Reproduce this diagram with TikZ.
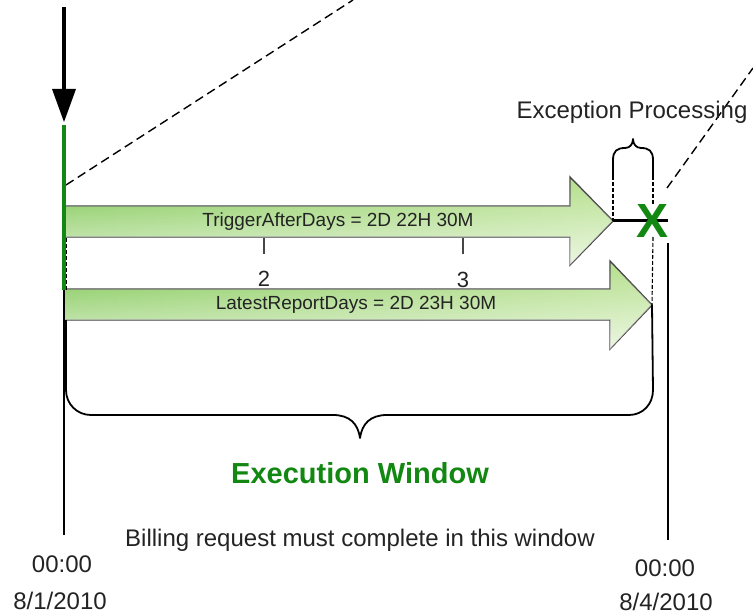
\documentclass[tikz,border=0pt]{standalone}
\usepackage{fontspec}
\setmainfont{Liberation Sans}
\usetikzlibrary{fadings}
\definecolor{okgreen}{RGB}{18,136,18}
\definecolor{arrowdark}{RGB}{124,198,78}
\definecolor{arrowlight}{RGB}{184,225,144}
\definecolor{edgegray}{RGB}{70,70,70}
\definecolor{ink}{RGB}{35,35,35}

\begin{document}
\begin{tikzpicture}[x=1pt,y=-1pt,
  lbl/.style={font=\fontsize{24}{28}\selectfont, text=ink, inner sep=0pt, anchor=base},
  arrowtext/.style={font=\fontsize{19}{22}\selectfont, text=ink, inner sep=0pt, anchor=base},
  bigarrow/.style={draw=edgegray, line width=1.4pt, line join=miter, left color=arrowdark, right color=arrowlight},
  sheen/.style={fill=white, fill opacity=0.75, path fading=north},
  zoomline/.style={black, line width=1.4pt, dash pattern=on 9pt off 5pt},
  guide/.style={black, line width=1.1pt, dash pattern=on 4pt off 2pt},
  bracestroke/.style={black, line width=1.8pt, line join=round},
  tick/.style={edgegray, line width=1.5pt},
]
\useasboundingbox (0,0) rectangle (753,615);

% zoom-out guide lines
\coordinate (zl1) at (66,185);
\coordinate (zl2) at (353,0);
\coordinate (zr1) at (667,188);
\coordinate (zr2) at (753,68);
\draw[zoomline] (zl1) -- (zl2);
\draw[zoomline] (zr1) -- (zr2);

% the two duration arrows
\path[bigarrow] (64,206) -- (570,206) -- (570,177) -- (613,221) -- (570,265) -- (570,237) -- (64,237) -- cycle;
\path[sheen] (64,206) -- (570,206) -- (570,177) -- (613,221) -- (570,265) -- (570,237) -- (64,237) -- cycle;
\path[bigarrow] (64,289) -- (610,289) -- (610,261) -- (652,305) -- (610,349) -- (610,320) -- (64,320) -- cycle;
\path[sheen] (64,289) -- (610,289) -- (610,261) -- (652,305) -- (610,349) -- (610,320) -- (64,320) -- cycle;
\coordinate (trigtip) at (613,221);
\coordinate (latetip) at (652,305);

\node[arrowtext] (trig) at (338,226.5) {TriggerAfterDays = 2D 22H 30M};
\node[arrowtext] (late) at (356,309.5) {LatestReportDays = 2D 23H 30M};

% day ticks
\coordinate (t2a) at (264,238); \coordinate (t2b) at (264,254);
\coordinate (t3a) at (463,238); \coordinate (t3b) at (463,254);
\draw[tick] (t2a) -- (t2b);
\draw[tick] (t3a) -- (t3b);
\node[lbl, font=\fontsize{22}{26}\selectfont] (d2) at (264,286) {2};
\node[lbl, font=\fontsize{22}{26}\selectfont] (d3) at (463,287) {3};

% time lines
\coordinate (ls) at (64,125); \coordinate (le) at (64,535);
\coordinate (rs) at (668,243); \coordinate (re) at (668,540);
\draw[black, line width=2pt] (ls) -- (le);
\draw[black, line width=1.6pt] (rs) -- (re);

% start marker
\coordinate (st) at (64,7);
\coordinate (sb) at (64,92);
\draw[black, line width=4pt] (st) -- (sb);
\fill[black] (52,89) -- (76,89) -- (64,122) -- cycle;
\coordinate (gs) at (64,125); \coordinate (ge) at (64,290);
\draw[okgreen, line width=4pt] (gs) -- (ge);
\draw[guide] (66.5,238) -- (66.5,290);

% exception processing span
\coordinate (xend) at (668,221);
\draw[black, line width=3pt] (trigtip) -- (xend);
\draw[bracestroke] (613,176) -- (613,160) .. controls (613,151) and (617,148) .. (625,148)
  .. controls (630,148) and (633,144) .. (633,139)
  .. controls (633,144) and (636,148) .. (641,148)
  .. controls (649,148) and (653,151) .. (653,160) -- (653,176);
\draw[guide] (613,176) -- (trigtip);
\draw[guide] (653,176) -- (653,204);
\draw[guide] (653,237) -- (latetip);
\node[font=\bfseries\fontsize{48}{52}\selectfont, text=okgreen, inner sep=0pt, anchor=base] (xmark) at (653,237.5) {X};
\node[lbl] (exc) at (632,119) {Exception Processing};

% execution window brace
\draw[bracestroke] (66,320) -- (66,390) .. controls (66,404) and (77,415) .. (91,415)
  -- (333,415) .. controls (350,415) and (358,424) .. (360,438)
  .. controls (362,424) and (370,415) .. (387,415)
  -- (629,415) .. controls (643,415) and (653,404) .. (653,390) -- (latetip);

\node[lbl, font=\bfseries\fontsize{29}{33}\selectfont, text=okgreen] (win) at (360,483) {Execution Window};
\node[lbl] (bill) at (360,546) {Billing request must complete in this window};

% dates
\node[lbl] (t0) at (62,572) {00:00};
\node[lbl] (d0) at (60,609) {8/1/2010};
\node[lbl] (t1) at (665,576) {00:00};
\node[lbl] (d1) at (666,610) {8/4/2010};
\end{tikzpicture}
\end{document}
